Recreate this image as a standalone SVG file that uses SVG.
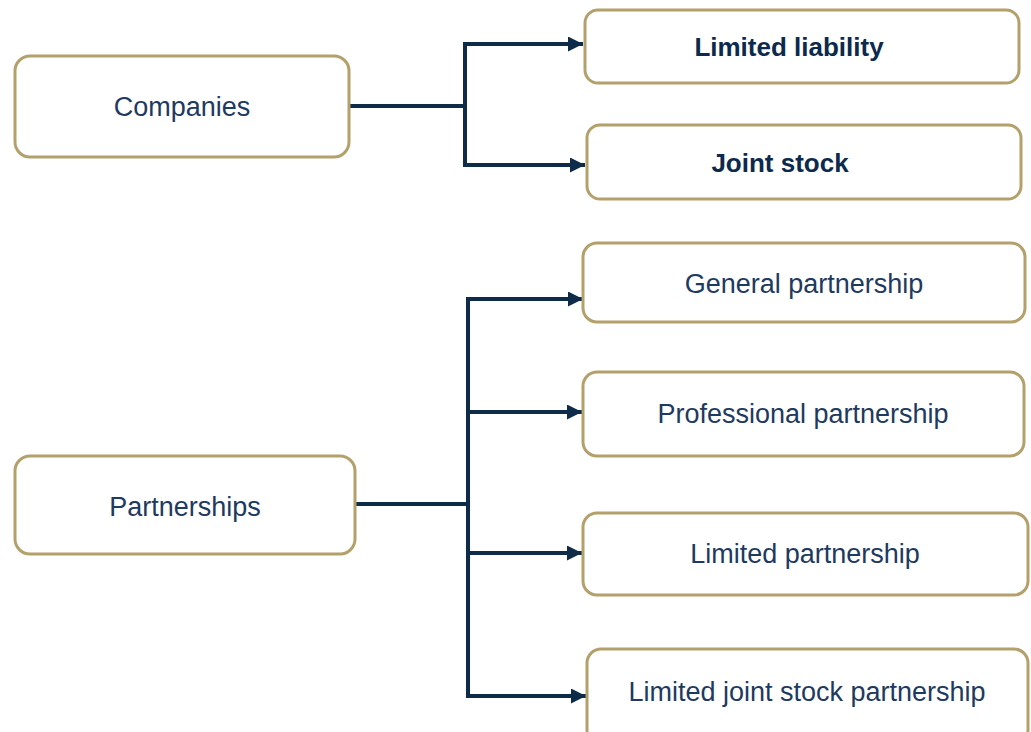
<svg xmlns="http://www.w3.org/2000/svg" width="1031" height="732" viewBox="0 0 1031 732">
<defs>
<style>
.box{fill:#ffffff;stroke:#b3a06a;stroke-width:3}
.lbl{font-family:"Liberation Sans",Arial,sans-serif;font-size:27px;fill:#1e3a5f;text-anchor:middle}
.bld{font-family:"Liberation Sans",Arial,sans-serif;font-size:26px;font-weight:bold;fill:#0c2a4d;text-anchor:middle}
.con{fill:none;stroke:#0f2b4a;stroke-width:4}
.arr{fill:none;stroke:#0f2b4a;stroke-width:4;marker-end:url(#ah)}
</style>
<marker id="ah" markerUnits="userSpaceOnUse" markerWidth="16" markerHeight="16" refX="15" refY="7.5" orient="auto">
<path d="M0,0 L15,7.5 L0,15 z" fill="#0f2b4a"/>
</marker>
</defs>
<rect width="1031" height="732" fill="#ffffff"/>
<g id="connectors">
<path class="con" d="M349,106 H465 M465,42 V167"/>
<path class="arr" d="M463,44 H583"/>
<path class="arr" d="M463,165 H585"/>
<path class="con" d="M355,504 H468 M468,297 V698"/>
<path class="arr" d="M466,299 H583"/>
<path class="arr" d="M466,412 H582"/>
<path class="arr" d="M466,553 H582"/>
<path class="arr" d="M466,696 H586"/>
</g>
<g id="companies">
<rect class="box" x="15" y="56" width="334" height="101" rx="15"/>
<text class="lbl" x="182" y="116">Companies</text>
</g>
<g id="partnerships">
<rect class="box" x="15" y="456" width="340" height="98" rx="15"/>
<text class="lbl" x="185" y="516">Partnerships</text>
</g>
<g id="limited-liability">
<rect class="box" x="585" y="10" width="434" height="73" rx="13"/>
<text class="bld" x="789" y="56">Limited liability</text>
</g>
<g id="joint-stock">
<rect class="box" x="587" y="125" width="434" height="74" rx="13"/>
<text class="bld" x="780" y="172">Joint stock</text>
</g>
<g id="general-partnership">
<rect class="box" x="583" y="243" width="442" height="79" rx="14"/>
<text class="lbl" x="804" y="293">General partnership</text>
</g>
<g id="professional-partnership">
<rect class="box" x="583" y="372" width="441" height="84" rx="14"/>
<text class="lbl" x="803" y="423">Professional partnership</text>
</g>
<g id="limited-partnership">
<rect class="box" x="583" y="513" width="445" height="82" rx="14"/>
<text class="lbl" x="805" y="563">Limited partnership</text>
</g>
<g id="limited-joint-stock-partnership">
<rect class="box" x="587" y="649" width="441" height="95" rx="14"/>
<text class="lbl" x="807" y="701">Limited joint stock partnership</text>
</g>
</svg>
